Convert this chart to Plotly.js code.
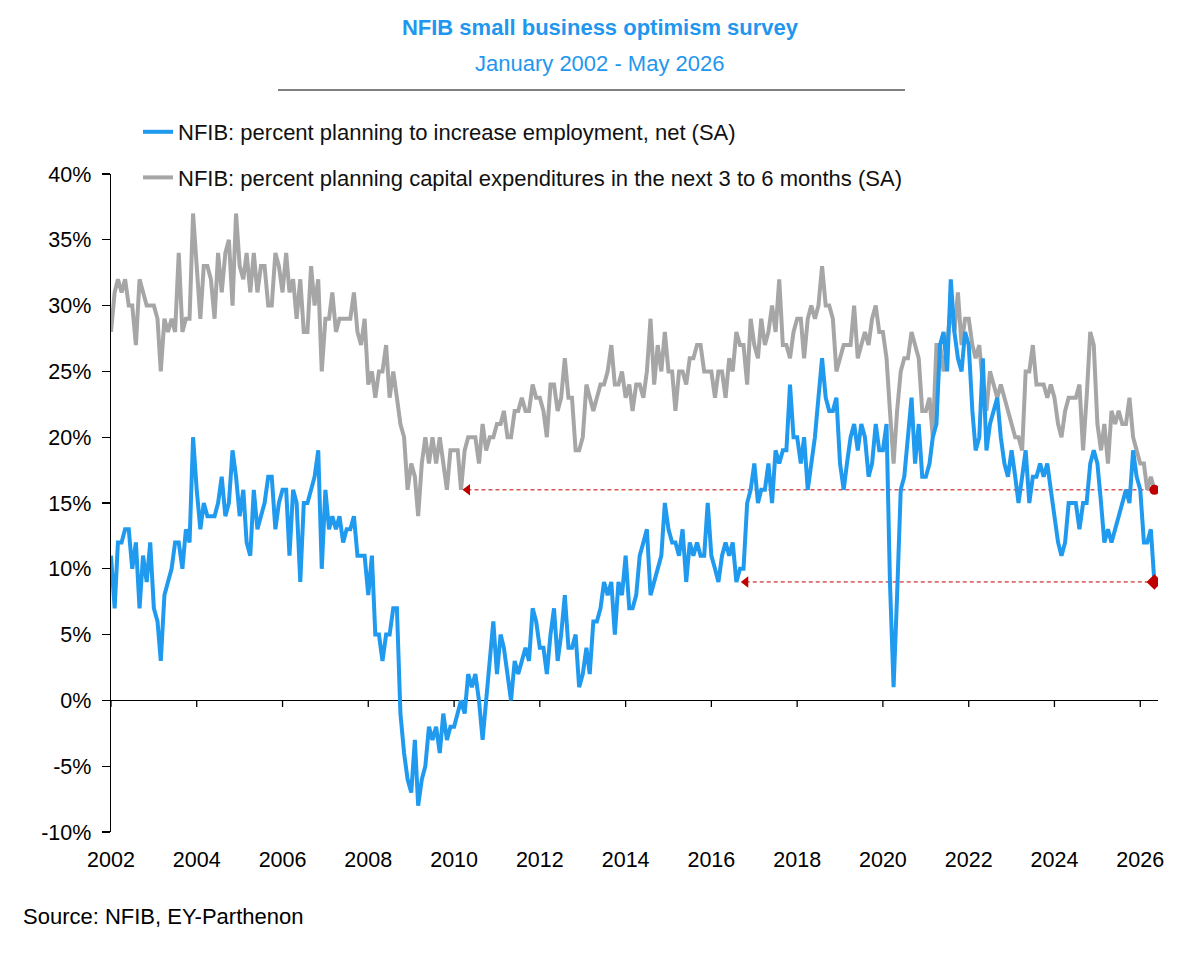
<!DOCTYPE html>
<html>
<head>
<meta charset="utf-8">
<script src="https://cdn.plot.ly/plotly-3.0.1.min.js"></script>
<style>
  html, body { margin: 0; padding: 0; background: #ffffff; }
  #chart { width: 1200px; height: 958px; }
</style>
</head>
<body>
<div id="chart"></div>
<script>
// ---------------- DATA (monthly, Jan 2002 - May 2026) ----------------
const startYear = 2002;

// NFIB: percent planning to increase employment, net (SA)
const hiringPlans = [
  11, 7, 12, 12, 13, 13, 10, 12, 7, 11, 9, 12,      // 2002
  7, 6, 3, 8, 9, 10, 12, 12, 10, 13, 12, 20,        // 2003
  16, 13, 15, 14, 14, 14, 15, 17, 14, 15, 19, 17,   // 2004
  14, 16, 12, 11, 16, 13, 14, 15, 17, 17, 13, 15,   // 2005
  16, 16, 11, 16, 15, 9, 15, 15, 16, 17, 19, 10,    // 2006
  16, 13, 14, 13, 14, 12, 13, 13, 14, 11, 11, 11,   // 2007
  8, 11, 5, 5, 3, 5, 5, 7, 7, -1, -4, -6,           // 2008
  -7, -3, -8, -6, -5, -2, -3, -2, -4, -1, -3, -2,   // 2009
  -2, -1, 0, -1, 2, 1, 2, 0, -3, 0, 3, 6,           // 2010
  2, 5, 4, 2, 0, 3, 2, 3, 4, 3, 7, 6,               // 2011
  4, 4, 2, 5, 7, 3, 5, 8, 4, 4, 5, 1,               // 2012
  2, 4, 2, 6, 6, 7, 9, 8, 9, 5, 9, 8,               // 2013
  11, 7, 7, 8, 11, 12, 13, 8, 9, 10, 11, 15,        // 2014
  13, 12, 12, 11, 13, 9, 12, 11, 12, 11, 11, 15,    // 2015
  11, 10, 9, 11, 12, 11, 12, 9, 10, 10, 15, 16,     // 2016
  18, 15, 16, 16, 18, 15, 19, 18, 19, 19, 24, 20,   // 2017
  20, 18, 20, 16, 18, 20, 23, 26, 23, 22, 22, 23,   // 2018
  18, 16, 18, 20, 21, 19, 21, 20, 17, 18, 21, 19,   // 2019
  19, 21, 9, 1, 8, 16, 17, 20, 23, 18, 21, 17,      // 2020
  17, 18, 20, 21, 27, 28, 25, 32, 28, 26, 25, 28,   // 2021
  27, 22, 19, 20, 26, 19, 21, 22, 23, 20, 18, 17,   // 2022
  19, 17, 15, 17, 19, 15, 17, 17, 18, 17, 18, 16,   // 2023
  14, 12, 11, 12, 15, 15, 15, 13, 15, 15, 18, 19,   // 2024
  18, 15, 12, 13, 12, 13, 14, 15, 16, 15, 19, 17,   // 2025
  16, 12, 12, 13, 9                                 // 2026
];

// NFIB: percent planning capital expenditures in the next 3 to 6 months (SA)
const capexPlans = [
  28, 31, 32, 31, 32, 30, 30, 27, 32, 31, 30, 30,   // 2002
  30, 29, 25, 29, 28, 29, 28, 34, 28, 29, 29, 37,   // 2003
  33, 29, 33, 33, 32, 29, 34, 31, 34, 35, 30, 37,   // 2004
  33, 32, 34, 31, 34, 31, 33, 33, 30, 30, 34, 33,   // 2005
  31, 34, 31, 32, 29, 32, 28, 28, 33, 30, 32, 25,   // 2006
  29, 29, 31, 28, 29, 29, 29, 29, 31, 28, 27, 29,   // 2007
  24, 25, 23, 25, 25, 27, 23, 25, 23, 21, 20, 16,   // 2008
  18, 17, 14, 18, 20, 18, 20, 18, 20, 18, 16, 19,   // 2009
  19, 19, 16, 19, 20, 20, 20, 18, 21, 19, 20, 20,   // 2010
  21, 21, 22, 20, 20, 22, 22, 23, 22, 22, 24, 23,   // 2011
  23, 22, 20, 24, 24, 22, 23, 26, 23, 23, 19, 19,   // 2012
  20, 24, 23, 22, 23, 24, 24, 25, 27, 24, 24, 25,   // 2013
  23, 24, 22, 24, 24, 23, 25, 29, 24, 27, 25, 28,   // 2014
  25, 25, 22, 25, 25, 24, 26, 26, 27, 27, 25, 25,   // 2015
  25, 23, 25, 25, 23, 26, 25, 28, 27, 27, 24, 29,   // 2016
  27, 26, 29, 27, 28, 30, 28, 32, 27, 27, 26, 28,   // 2017
  29, 29, 26, 29, 30, 29, 30, 33, 30, 30, 29, 25,   // 2018
  26, 27, 27, 27, 30, 26, 27, 28, 27, 29, 30, 28,   // 2019
  28, 26, 22, 18, 22, 25, 26, 26, 28, 27, 26, 22,   // 2020
  22, 23, 20, 27, 27, 25, 27, 30, 28, 31, 27, 29,   // 2021
  29, 27, 26, 27, 24, 22, 25, 24, 23, 24, 23, 22,   // 2022
  21, 20, 20, 19, 25, 25, 27, 24, 24, 24, 23, 24,   // 2023
  23, 21, 20, 22, 23, 23, 23, 24, 19, 23, 28, 27,   // 2024
  21, 19, 21, 18, 22, 21, 22, 21, 21, 23, 20, 19,   // 2025
  18, 18, 16, 17, 16                                // 2026
];

const seriesNames = [
  'NFIB: percent planning to increase employment, net (SA)',
  'NFIB: percent planning capital expenditures in the next 3 to 6 months (SA)'
];
const xTickYears = [2002, 2004, 2006, 2008, 2010, 2012, 2014, 2016, 2018, 2020, 2022, 2024, 2026];
const yTickValues = [-10, -5, 0, 5, 10, 15, 20, 25, 30, 35, 40];
// dates the red "comparison" arrows point back to (annotation only)
const arrowBackDates = { capex: '2010-04-25', hiring: '2016-10-20' };

// ---------------- STYLE ----------------
const FONT = 'Liberation Sans, Arial, sans-serif';
const BLUE = '#1F9AEF';
const GREY = '#A6A6A6';
const RED = '#C00000';
const TITLE_BLUE = '#1F97EE';

function monthDate(i) {
  const y = startYear + Math.floor(i / 12);
  const m = (i % 12) + 1;
  return y + '-' + String(m).padStart(2, '0') + '-01';
}
const dates = hiringPlans.map((_, i) => monthDate(i));
const lastIdx = dates.length - 1;
const lastDate = dates[lastIdx];
const lastHiring = hiringPlans[lastIdx];
const lastCapex = capexPlans[lastIdx];

const traces = [
  {
    x: dates, y: capexPlans, type: 'scatter', mode: 'lines',
    name: seriesNames[1], legendgroup: 'g2', legendrank: 2,
    line: { color: GREY, width: 4 }, hoverinfo: 'skip'
  },
  {
    x: dates, y: hiringPlans, type: 'scatter', mode: 'lines',
    name: seriesNames[0], legendgroup: 'g1', legendrank: 1,
    line: { color: BLUE, width: 4 }, hoverinfo: 'skip'
  },
  // arrow heads
  {
    x: [arrowBackDates.capex, arrowBackDates.hiring], y: [lastCapex, lastHiring],
    type: 'scatter', mode: 'markers', showlegend: false, hoverinfo: 'skip',
    marker: { symbol: 'triangle-left', size: 10, color: RED }
  },
  // final points
  {
    x: [lastDate], y: [lastCapex], type: 'scatter', mode: 'markers',
    showlegend: false, hoverinfo: 'skip',
    marker: { symbol: 'circle', size: 10, color: RED }
  },
  {
    x: [lastDate], y: [lastHiring], type: 'scatter', mode: 'markers',
    showlegend: false, hoverinfo: 'skip',
    marker: { symbol: 'diamond', size: 12, color: RED }
  }
];

const plotL = 111, plotR = 1158, plotT = 174, plotB = 832;
const pw = plotR - plotL, ph = plotB - plotT;
const px2x = (px) => (px - plotL) / pw;
const px2y = (py) => (plotB - py) / ph;

const shapes = [
  // rule under the title
  { type: 'line', xref: 'paper', yref: 'paper', x0: px2x(278), x1: px2x(905),
    y0: px2y(90), y1: px2y(90), line: { color: '#000', width: 1 } },
  // dashed comparison lines
  { type: 'line', xref: 'x', yref: 'y', x0: arrowBackDates.capex, x1: lastDate,
    y0: lastCapex, y1: lastCapex, line: { color: RED, width: 1, dash: '4px,3px' }, layer: 'below' },
  { type: 'line', xref: 'x', yref: 'y', x0: arrowBackDates.hiring, x1: lastDate,
    y0: lastHiring, y1: lastHiring, line: { color: RED, width: 1, dash: '4px,3px' }, layer: 'below' }
];
// tick marks on the zero line for the year ticks
xTickYears.forEach(yr => {
  shapes.push({ type: 'line', xref: 'x', yref: 'y', x0: yr + '-01-01', x1: yr + '-01-01',
    y0: 0, y1: -0.5, line: { color: '#000', width: 1.3 } });
});

const layout = {
  width: 1200, height: 958,
  margin: { l: plotL, r: 1200 - plotR, t: plotT, b: 958 - plotB, pad: 0, autoexpand: false },
  paper_bgcolor: '#ffffff', plot_bgcolor: '#ffffff',
  font: { family: FONT, size: 21.5, color: '#000' },
  title: {
    text: '<b>NFIB small business optimism survey</b>',
    font: { family: FONT, size: 22, color: TITLE_BLUE },
    x: 0.5, xref: 'container', xanchor: 'center',
    y: 1 - 27 / 958, yref: 'container', yanchor: 'middle'
  },
  showlegend: true,
  legend: {
    x: px2x(138), xref: 'paper', xanchor: 'left',
    y: px2y(111), yref: 'paper', yanchor: 'top',
    traceorder: 'grouped', tracegroupgap: 14,
    font: { family: FONT, size: 22, color: '#111' },
    bgcolor: 'rgba(0,0,0,0)', borderwidth: 0
  },
  xaxis: {
    type: 'date',
    range: ['2002-01-01', '2026-06-01'],
    tickvals: xTickYears.map(y => y + '-01-01'),
    ticktext: xTickYears.map(String),
    ticks: '', showline: false, showgrid: false, zeroline: false,
    tickangle: 0,
    ticklabelstandoff: 12,
    tickfont: { family: FONT, size: 21.5, color: '#000' }
  },
  yaxis: {
    range: [-10, 40],
    tickvals: yTickValues,
    ticktext: yTickValues.map(v => v + '%'),
    ticks: 'outside', ticklen: 8, tickwidth: 1.3, tickcolor: '#000',
    showline: true, linecolor: '#000', linewidth: 1.3,
    showgrid: false,
    zeroline: true, zerolinecolor: '#000', zerolinewidth: 1.3,
    ticklabelstandoff: 6,
    tickfont: { family: FONT, size: 21.5, color: '#000' }
  },
  shapes: shapes,
  annotations: [
    { text: 'January 2002 - May 2026', showarrow: false,
      xref: 'paper', yref: 'paper', x: px2x(600), y: px2y(63),
      xanchor: 'center', yanchor: 'middle',
      font: { family: FONT, size: 22, color: TITLE_BLUE } },
    { text: 'Source: NFIB, EY-Parthenon', showarrow: false,
      xref: 'paper', yref: 'paper', x: px2x(21), y: px2y(916),
      xanchor: 'left', yanchor: 'middle',
      font: { family: FONT, size: 22, color: '#000' } }
  ],
  hovermode: false
};

Plotly.newPlot('chart', traces, layout, { staticPlot: true, displayModeBar: false });
</script>
</body>
</html>
